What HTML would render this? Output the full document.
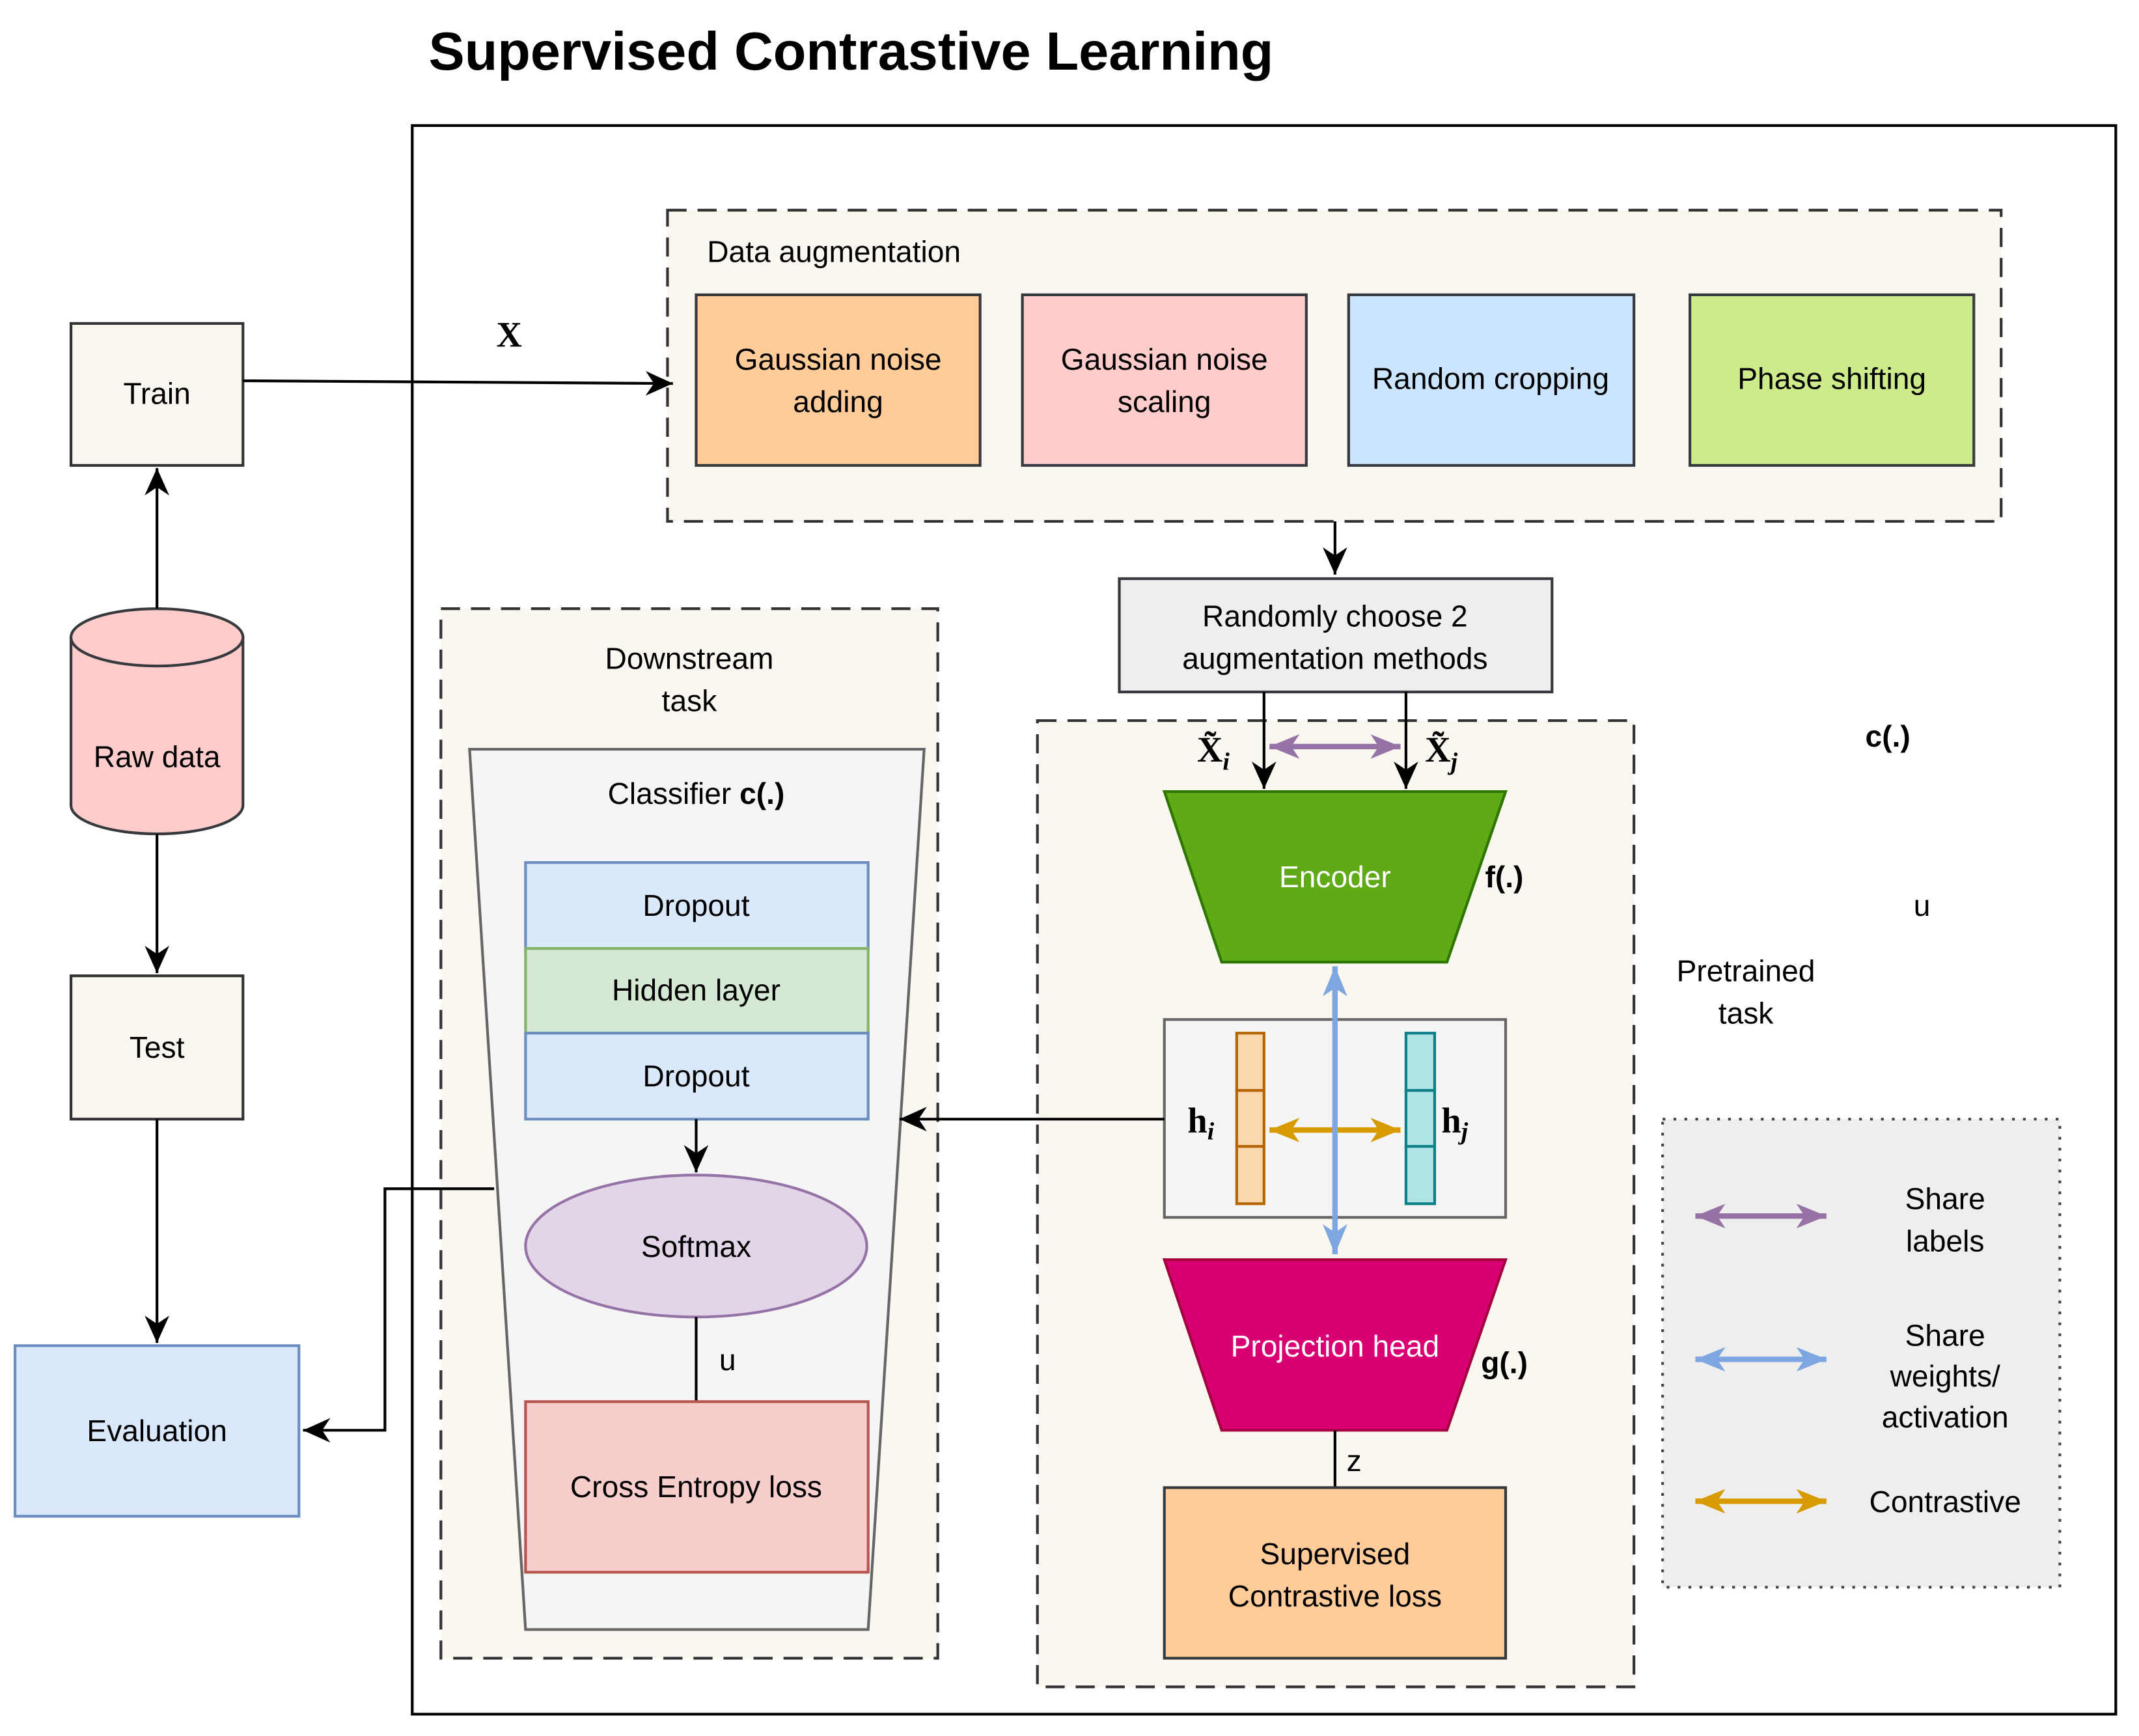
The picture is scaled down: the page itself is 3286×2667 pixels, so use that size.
<!DOCTYPE html>
<html><head><meta charset="utf-8"><style>html,body{margin:0;padding:0;background:#fff}svg{display:block}</style></head><body>
<svg width="3286" height="2667" viewBox="0 0 1567 1272" preserveAspectRatio="none" xmlns="http://www.w3.org/2000/svg" font-family="Liberation Sans, Arial, sans-serif">
<defs>
<marker id="ab" markerUnits="userSpaceOnUse" markerWidth="26" markerHeight="26" refX="22" refY="13" orient="auto"><path d="M2,4 L22,13 L2,22 L8,13 Z" fill="#000"/></marker>
<marker id="pe" markerUnits="userSpaceOnUse" markerWidth="26" markerHeight="26" refX="22" refY="13" orient="auto"><path d="M0,4 L22,13 L0,22 L6,13 Z" fill="#9673a6"/></marker>
<marker id="ps" markerUnits="userSpaceOnUse" markerWidth="26" markerHeight="26" refX="4" refY="13" orient="auto"><path d="M26,4 L4,13 L26,22 L20,13 Z" fill="#9673a6"/></marker>
<marker id="oe" markerUnits="userSpaceOnUse" markerWidth="26" markerHeight="26" refX="22" refY="13" orient="auto"><path d="M0,4 L22,13 L0,22 L6,13 Z" fill="#d79b00"/></marker>
<marker id="os" markerUnits="userSpaceOnUse" markerWidth="26" markerHeight="26" refX="4" refY="13" orient="auto"><path d="M26,4 L4,13 L26,22 L20,13 Z" fill="#d79b00"/></marker>
<marker id="be" markerUnits="userSpaceOnUse" markerWidth="26" markerHeight="26" refX="22" refY="13" orient="auto"><path d="M0,4 L22,13 L0,22 L6,13 Z" fill="#7ea6e0"/></marker>
<marker id="bs" markerUnits="userSpaceOnUse" markerWidth="26" markerHeight="26" refX="4" refY="13" orient="auto"><path d="M26,4 L4,13 L26,22 L20,13 Z" fill="#7ea6e0"/></marker>
</defs>
<text x="314" y="51" font-size="39.5" font-weight="bold">Supervised Contrastive Learning</text>
<rect x="302" y="92" width="1248" height="1164" fill="#fff" stroke="#000" stroke-width="2"/>
<rect x="489" y="154" width="977" height="228" fill="#f9f7ef" stroke="#333" stroke-width="2" stroke-dasharray="14,8"/>
<text x="518" y="192" font-size="22">Data augmentation</text>
<g stroke="#36393d" stroke-width="2">
<rect x="510" y="216" width="208" height="125" fill="#ffcc99"/>
<rect x="749" y="216" width="208" height="125" fill="#ffcccc"/>
<rect x="988" y="216" width="209" height="125" fill="#cce5ff"/>
<rect x="1238" y="216" width="208" height="125" fill="#cdeb8b"/>
</g>
<g font-size="22" text-anchor="middle">
<text x="614" y="271">Gaussian noise</text><text x="614" y="302">adding</text>
<text x="853" y="271">Gaussian noise</text><text x="853" y="302">scaling</text>
<text x="1092" y="285">Random cropping</text>
<text x="1342" y="285">Phase shifting</text>
</g>
<rect x="52" y="237" width="126" height="104" fill="#f8f6ef" stroke="#333" stroke-width="2"/>
<text x="115" y="296" font-size="22" text-anchor="middle">Train</text>
<line x1="178" y1="279" x2="493" y2="281" stroke="#000" stroke-width="2" marker-end="url(#ab)"/>
<text x="373" y="254" font-size="26" font-weight="bold" font-family="Liberation Serif, serif" text-anchor="middle">X</text>
<path d="M52,467 L52,590 A63,21 0 0 0 178,590 L178,467 Z" fill="#ffcccc" stroke="#36393d" stroke-width="2"/>
<ellipse cx="115" cy="467" rx="63" ry="21" fill="#ffcccc" stroke="#36393d" stroke-width="2"/>
<text x="115" y="562" font-size="22" text-anchor="middle">Raw data</text>
<line x1="115" y1="446" x2="115" y2="343" stroke="#000" stroke-width="2" marker-end="url(#ab)"/>
<line x1="115" y1="611" x2="115" y2="713" stroke="#000" stroke-width="2" marker-end="url(#ab)"/>
<rect x="52" y="715" width="126" height="105" fill="#f8f6ef" stroke="#333" stroke-width="2"/>
<text x="115" y="775" font-size="22" text-anchor="middle">Test</text>
<line x1="115" y1="820" x2="115" y2="984" stroke="#000" stroke-width="2" marker-end="url(#ab)"/>
<rect x="11" y="986" width="208" height="125" fill="#dae8fc" stroke="#6c8ebf" stroke-width="2"/>
<text x="115" y="1056" font-size="22" text-anchor="middle">Evaluation</text>
<line x1="978" y1="382" x2="978" y2="421" stroke="#000" stroke-width="2" marker-end="url(#ab)"/>
<rect x="820" y="424" width="317" height="83" fill="#eeeeee" stroke="#36393d" stroke-width="2"/>
<text x="978" y="459" font-size="22" text-anchor="middle">Randomly choose 2</text>
<text x="978" y="490" font-size="22" text-anchor="middle">augmentation methods</text>
<rect x="323" y="446" width="364" height="769" fill="#f9f7ef" stroke="#333" stroke-width="2" stroke-dasharray="14,8"/>
<text x="505" y="490" font-size="22" text-anchor="middle">Downstream</text>
<text x="505" y="521" font-size="22" text-anchor="middle">task</text>
<polygon points="344,549 677,549 636,1194 385,1194" fill="#f5f5f5" stroke="#666" stroke-width="2"/>
<text x="510" y="589" font-size="22" text-anchor="middle">Classifier <tspan font-weight="bold">c(.)</tspan></text>
<rect x="385" y="632" width="251" height="63" fill="#dae8fc" stroke="#6c8ebf" stroke-width="2"/>
<rect x="385" y="695" width="251" height="62" fill="#d5e8d4" stroke="#82b366" stroke-width="2"/>
<rect x="385" y="757" width="251" height="63" fill="#dae8fc" stroke="#6c8ebf" stroke-width="2"/>
<text x="510" y="671" font-size="22" text-anchor="middle">Dropout</text>
<text x="510" y="733" font-size="22" text-anchor="middle">Hidden layer</text>
<text x="510" y="796" font-size="22" text-anchor="middle">Dropout</text>
<line x1="510" y1="820" x2="510" y2="859" stroke="#000" stroke-width="2" marker-end="url(#ab)"/>
<ellipse cx="510" cy="913" rx="125" ry="52" fill="#e1d5e7" stroke="#9673a6" stroke-width="2"/>
<text x="510" y="921" font-size="22" text-anchor="middle">Softmax</text>
<line x1="510" y1="965" x2="510" y2="1027" stroke="#000" stroke-width="2"/>
<text x="533" y="1004" font-size="22" text-anchor="middle">u</text>
<rect x="385" y="1027" width="251" height="125" fill="#f8cecc" stroke="#b85450" stroke-width="2"/>
<text x="510" y="1097" font-size="22" text-anchor="middle">Cross Entropy loss</text>
<polyline points="362,871 282,871 282,1048 222,1048" fill="none" stroke="#000" stroke-width="2" marker-end="url(#ab)"/>
<rect x="760" y="528" width="437" height="708" fill="#f9f7ef" stroke="#333" stroke-width="2" stroke-dasharray="14,8"/>
<line x1="926" y1="507" x2="926" y2="578" stroke="#000" stroke-width="2" marker-end="url(#ab)"/>
<line x1="1030" y1="507" x2="1030" y2="578" stroke="#000" stroke-width="2" marker-end="url(#ab)"/>
<line x1="930" y1="547" x2="1026" y2="547" stroke="#9673a6" stroke-width="4" marker-start="url(#ps)" marker-end="url(#pe)"/>
<text x="877" y="558" font-size="26" font-weight="bold" font-family="Liberation Serif, serif">X̃<tspan font-size="18" font-style="italic" dy="6">i</tspan></text>
<text x="1044" y="558" font-size="26" font-weight="bold" font-family="Liberation Serif, serif">X̃<tspan font-size="18" font-style="italic" dy="6">j</tspan></text>
<polygon points="853,580 1103,580 1060,705 895,705" fill="#60a917" stroke="#2d7600" stroke-width="2"/>
<text x="978" y="650" font-size="22" fill="#fff" text-anchor="middle">Encoder</text>
<text x="1088" y="650" font-size="22" font-weight="bold">f(.)</text>
<rect x="853" y="747" width="250" height="145" fill="#f5f5f5" stroke="#666" stroke-width="2"/>
<g stroke-width="2">
<rect x="906" y="757" width="20" height="42" fill="#fad7ac" stroke="#b46504"/>
<rect x="906" y="799" width="20" height="41" fill="#fad7ac" stroke="#b46504"/>
<rect x="906" y="840" width="20" height="42" fill="#fad7ac" stroke="#b46504"/>
<rect x="1030" y="757" width="21" height="42" fill="#b0e3e6" stroke="#0e8088"/>
<rect x="1030" y="799" width="21" height="41" fill="#b0e3e6" stroke="#0e8088"/>
<rect x="1030" y="840" width="21" height="42" fill="#b0e3e6" stroke="#0e8088"/>
</g>
<text x="870" y="830" font-size="26" font-weight="bold" font-family="Liberation Serif, serif">h<tspan font-size="18" font-style="italic" dy="5">i</tspan></text>
<text x="1056" y="830" font-size="26" font-weight="bold" font-family="Liberation Serif, serif">h<tspan font-size="18" font-style="italic" dy="5">j</tspan></text>
<line x1="930" y1="828" x2="1026" y2="828" stroke="#d79b00" stroke-width="4" marker-start="url(#os)" marker-end="url(#oe)"/>
<line x1="978" y1="708" x2="978" y2="919" stroke="#7ea6e0" stroke-width="4" marker-start="url(#bs)" marker-end="url(#be)"/>
<line x1="853" y1="820" x2="659" y2="820" stroke="#000" stroke-width="2" marker-end="url(#ab)"/>
<polygon points="853,923 1103,923 1060,1048 895,1048" fill="#d80073" stroke="#a50040" stroke-width="2"/>
<text x="978" y="994" font-size="22" fill="#fff" text-anchor="middle">Projection head</text>
<text x="1085" y="1006" font-size="22" font-weight="bold">g(.)</text>
<line x1="978" y1="1048" x2="978" y2="1090" stroke="#000" stroke-width="2"/>
<text x="992" y="1078" font-size="22" text-anchor="middle">z</text>
<rect x="853" y="1090" width="250" height="125" fill="#ffcc99" stroke="#36393d" stroke-width="2"/>
<text x="978" y="1146" font-size="22" text-anchor="middle">Supervised</text>
<text x="978" y="1177" font-size="22" text-anchor="middle">Contrastive loss</text>
<text x="1383" y="547" font-size="22" font-weight="bold" text-anchor="middle">c(.)</text>
<text x="1408" y="671" font-size="22" text-anchor="middle">u</text>
<text x="1279" y="719" font-size="22" text-anchor="middle">Pretrained</text>
<text x="1279" y="750" font-size="22" text-anchor="middle">task</text>
<rect x="1218" y="820" width="291" height="343" fill="#eeeeee" stroke="#444" stroke-width="2" stroke-dasharray="2,6"/>
<line x1="1242" y1="891" x2="1338" y2="891" stroke="#9673a6" stroke-width="4" marker-start="url(#ps)" marker-end="url(#pe)"/>
<line x1="1242" y1="996" x2="1338" y2="996" stroke="#7ea6e0" stroke-width="4" marker-start="url(#bs)" marker-end="url(#be)"/>
<line x1="1242" y1="1100" x2="1338" y2="1100" stroke="#d79b00" stroke-width="4" marker-start="url(#os)" marker-end="url(#oe)"/>
<g font-size="22" text-anchor="middle">
<text x="1425" y="886">Share</text><text x="1425" y="917">labels</text>
<text x="1425" y="986">Share</text><text x="1425" y="1016">weights/</text><text x="1425" y="1046">activation</text>
<text x="1425" y="1108">Contrastive</text>
</g>
</svg>
</body></html>
